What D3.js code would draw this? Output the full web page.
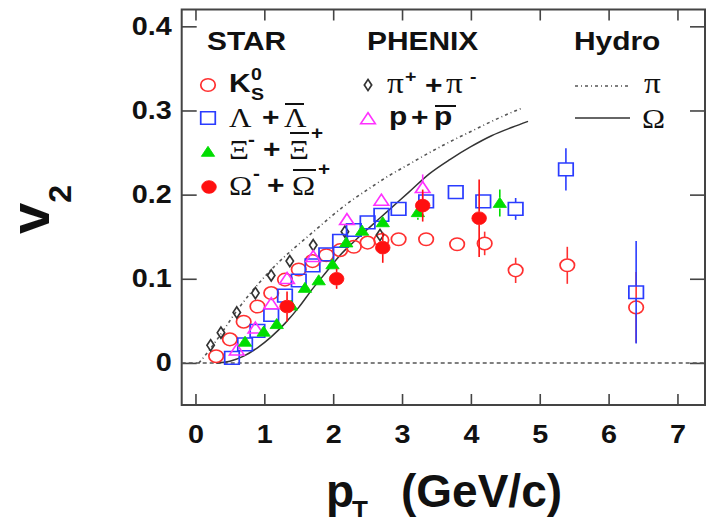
<!DOCTYPE html>
<html>
<head>
<meta charset="utf-8">
<script src="https://cdn.jsdelivr.net/npm/d3@7"></script>
<style>
  body { margin: 0; background: #fff; }
</style>
</head>
<body>
<div id="chart"></div>
<script>
// STAR K0S
let k0sPt  = [0.3, 0.5, 0.7, 0.9, 1.1, 1.3, 1.5, 1.7, 1.9, 2.1, 2.3, 2.5, 2.7, 2.95, 3.35, 3.8, 4.2, 4.65, 5.4, 6.4];
let k0sV2  = [0.008, 0.028, 0.049, 0.067, 0.083, 0.099, 0.111, 0.121, 0.128, 0.134, 0.138, 0.143, 0.146, 0.147, 0.147, 0.141, 0.142, 0.110, 0.116, 0.066];
let k0sErr = [0, 0, 0, 0, 0, 0, 0, 0, 0, 0, 0, 0, 0, 0, 0, 0.004, 0.014, 0.015, 0.022, 0.042];

// STAR Lambda
let lamPt  = [0.53, 0.72, 0.9, 1.1, 1.3, 1.5, 1.7, 1.9, 2.1, 2.3, 2.5, 2.7, 2.95, 3.35, 3.78, 4.18, 4.65, 5.38, 6.4];
let lamV2  = [0.006, 0.022, 0.038, 0.057, 0.080, 0.098, 0.116, 0.129, 0.145, 0.158, 0.167, 0.176, 0.183, 0.192, 0.203, 0.192, 0.183, 0.230, 0.084];
let lamErr = [0, 0, 0, 0, 0, 0, 0, 0, 0, 0, 0, 0, 0, 0, 0, 0.005, 0.013, 0.025, 0.061];

// STAR Xi
let xiPt  = [0.72, 0.99, 1.18, 1.39, 1.59, 1.79, 1.99, 2.19, 2.42, 2.72, 3.23, 4.42];
let xiV2  = [0.025, 0.037, 0.046, 0.068, 0.089, 0.098, 0.117, 0.143, 0.157, 0.167, 0.179, 0.190];
let xiErr = [0, 0, 0, 0, 0, 0, 0, 0, 0, 0, 0.009, 0.016];

// STAR Omega
let omPt  = [1.33, 2.05, 2.72, 3.30, 4.12];
let omV2  = [0.067, 0.100, 0.137, 0.187, 0.172];
let omErr = [0.018, 0.012, 0.018, 0.019, 0.046];

// PHENIX pions
let piPt = [0.22, 0.37, 0.6, 0.87, 1.1, 1.37, 1.71, 2.17, 2.68];
let piV2 = [0.021, 0.036, 0.060, 0.083, 0.104, 0.121, 0.140, 0.156, 0.152];

// PHENIX protons
let prPt  = [0.6, 0.87, 1.1, 1.33, 1.71, 2.2, 2.7, 3.3];
let prV2  = [0.015, 0.041, 0.070, 0.100, 0.126, 0.170, 0.193, 0.208];
let prErr = [0, 0, 0, 0, 0, 0, 0, 0.016];

// Hydro curves
let hydroPiPt = [0.05, 0.2, 0.4, 0.6, 0.8, 1.0, 1.2, 1.4, 1.6, 1.8, 2.0, 2.2, 2.5, 2.8, 3.1, 3.4, 3.7, 4.0, 4.3, 4.6, 4.75];
let hydroPiV2 = [0, 0.015, 0.038, 0.062, 0.083, 0.102, 0.119, 0.134, 0.148, 0.162, 0.176, 0.189, 0.206, 0.222, 0.236, 0.250, 0.263, 0.275, 0.287, 0.298, 0.303];
let hydroOmPt = [0.3, 0.5, 0.7, 0.9, 1.1, 1.3, 1.5, 1.7, 1.9, 2.1, 2.3, 2.5, 2.8, 3.1, 3.4, 3.7, 4.0, 4.3, 4.6, 4.83];
let hydroOmV2 = [0, 0.002, 0.008, 0.018, 0.031, 0.047, 0.066, 0.088, 0.108, 0.128, 0.144, 0.159, 0.181, 0.203, 0.225, 0.242, 0.257, 0.270, 0.280, 0.287];

let xTicks = [0, 1, 2, 3, 4, 5, 6, 7];
let yTicks = [0, 0.1, 0.2, 0.3, 0.4];

const SANS = "'Liberation Sans', Arial, sans-serif";
const SERIF = "'Liberation Serif', 'Times New Roman', serif";
const SX = 1.15; // the picture is a bit wider than tall

let W = 708, H = 517;
let x = d3.scaleLinear().domain([-0.2, 7.4]).range([181.7, 705]);
let y = d3.scaleLinear().domain([-0.05, 0.42]).range([405, 9.5]);

let svg = d3.select("#chart").append("svg")
    .attr("width", W).attr("height", H)
    .style("background", "#fff");

// axes with inward ticks on all four sides
let axisColor = "#444";
function styleAxis(g) {
  g.select(".domain").remove();
  g.selectAll("line").attr("stroke", axisColor).attr("stroke-width", 1.6);
}
svg.append("g").attr("transform", "translate(0," + y.range()[0] + ")")
  .call(d3.axisBottom(x).tickValues(xTicks).tickSize(-11).tickPadding(20).tickFormat(d3.format("d")))
  .call(styleAxis)
  .selectAll("text")
    .attr("transform", "scale(" + SX + ",1)")
    .style("font-family", SANS).style("font-weight", "bold").style("font-size", "25px").attr("fill", "#111");
svg.append("g").attr("transform", "translate(0," + y.range()[1] + ")")
  .call(d3.axisTop(x).tickValues(xTicks).tickSize(-11).tickFormat(""))
  .call(styleAxis);
svg.append("g").attr("transform", "translate(" + x.range()[0] + ",0)")
  .call(d3.axisLeft(y).tickValues(yTicks).tickSize(-15).tickPadding(10).tickFormat(d => d === 0 ? "0" : d3.format(".1f")(d)))
  .call(styleAxis)
  .selectAll("text")
    .attr("transform", "scale(" + SX + ",1)")
    .attr("x", -10 / SX)
    .style("font-family", SANS).style("font-weight", "bold").style("font-size", "25px").attr("fill", "#111");
svg.append("g").attr("transform", "translate(" + x.range()[1] + ",0)")
  .call(d3.axisRight(y).tickValues(yTicks).tickSize(-15).tickFormat(""))
  .call(styleAxis);

svg.append("rect")
  .attr("x", x.range()[0]).attr("y", y.range()[1])
  .attr("width", x.range()[1] - x.range()[0]).attr("height", y.range()[0] - y.range()[1])
  .attr("fill", "none").attr("stroke", axisColor).attr("stroke-width", 2);

// zero line
svg.append("line")
  .attr("x1", x(-0.2)).attr("x2", x(7.4)).attr("y1", y(0)).attr("y2", y(0))
  .attr("stroke", "#555").attr("stroke-width", 1.5).attr("stroke-dasharray", "4,3");

// hydro curves
let line = d3.line().x(d => x(d[0])).y(d => y(d[1])).curve(d3.curveMonotoneX);
svg.append("path").datum(d3.zip(hydroPiPt, hydroPiV2))
  .attr("d", line).attr("fill", "none").attr("stroke", "#555")
  .attr("stroke-width", 1.6).attr("stroke-dasharray", "3,3,1,3");
svg.append("path").datum(d3.zip(hydroOmPt, hydroOmV2))
  .attr("d", line).attr("fill", "none").attr("stroke", "#333").attr("stroke-width", 1.5);

// markers
function drawSeries(pt, v2, err, opt) {
  let data = pt.map((p, i) => ({p: p, v: v2[i], e: err ? err[i] : 0}));
  let g = svg.append("g");
  let r = opt.half;
  data.filter(d => d.e > 0).forEach(d => {
    let cy = y(d.v), top = y(d.v + d.e), bot = y(d.v - d.e);
    if (cy - top > r) g.append("line").attr("x1", x(d.p)).attr("x2", x(d.p)).attr("y1", top).attr("y2", cy - r)
      .attr("stroke", opt.color).attr("stroke-width", 1.6);
    if (bot - cy > r) g.append("line").attr("x1", x(d.p)).attr("x2", x(d.p)).attr("y1", cy + r).attr("y2", bot)
      .attr("stroke", opt.color).attr("stroke-width", 1.6);
  });
  g.selectAll("path").data(data).enter().append("path")
    .attr("d", d3.symbol().type(opt.type).size(opt.size))
    .attr("transform", d => "translate(" + x(d.p) + "," + (y(d.v) + (opt.dy || 0)) + ") scale(" + SX + ",1)")
    .attr("fill", opt.fill ? opt.color : "none")
    .attr("stroke", opt.color).attr("stroke-width", opt.fill ? 0.8 : 1.5);
}

let sK0s = {type: d3.symbolCircle, size: 125, color: "#ff3030", half: 6.5};
let sPi  = {type: d3.symbolDiamond, size: 36, color: "#333", half: 5.5};
let sLam = {type: d3.symbolSquare, size: 160, color: "#2a3cff", half: 6.5};
let sPr  = {type: d3.symbolTriangle, size: 70, color: "#ff30ff", half: 5.5, dy: 1};
let sXi  = {type: d3.symbolTriangle, size: 58, color: "#00dd00", half: 5.5, fill: true, dy: 1};
let sOm  = {type: d3.symbolCircle, size: 125, color: "#ff1010", half: 6.5, fill: true};

drawSeries(k0sPt, k0sV2, k0sErr, sK0s);
drawSeries(piPt, piV2, null, sPi);
drawSeries(lamPt, lamV2, lamErr, sLam);
drawSeries(prPt, prV2, prErr, sPr);
drawSeries(xiPt, xiV2, xiErr, sXi);
drawSeries(omPt, omV2, omErr, sOm);

// text helper, stretched like the picture
function txt(s, px, py, size, opts) {
  opts = opts || {};
  let t = svg.append("text")
    .attr("transform", "translate(" + px + "," + py + ") scale(" + (opts.sx || SX) + ",1)")
    .style("font-family", opts.serif ? SERIF : SANS)
    .style("font-weight", opts.serif ? "normal" : "bold")
    .style("font-size", size + "px")
    .attr("fill", "#111")
    .text(s);
  return t;
}
function over(x1, x2, yy) {
  svg.append("line").attr("x1", x1).attr("x2", x2).attr("y1", yy).attr("y2", yy)
    .attr("stroke", "#111").attr("stroke-width", 2);
}
function legendMarker(s, px, py) {
  svg.append("path")
    .attr("d", d3.symbol().type(s.type).size(s.size))
    .attr("transform", "translate(" + px + "," + (py + (s.dy || 0)) + ") scale(" + SX + ",1)")
    .attr("fill", s.fill ? s.color : "none")
    .attr("stroke", s.color).attr("stroke-width", s.fill ? 0.8 : 1.5);
}

// column headers
txt("STAR", 207, 50, 26);
txt("PHENIX", 367, 50, 26);
txt("Hydro", 574, 50, 26);

// STAR rows
legendMarker(sK0s, 208, 85);
txt("K", 229, 92, 26);
txt("0", 251, 80, 17);
txt("S", 251, 100, 17);

legendMarker(sLam, 208, 118);
txt("\u039B", 229, 127, 27, {serif: true});
txt("+", 262, 126, 26);
txt("\u039B", 284, 127, 27, {serif: true});
over(285, 304, 104);

legendMarker(sXi, 208, 152);
txt("\u039E", 229, 159, 27, {serif: true});
txt("-", 248, 146, 18);
txt("+", 263, 158, 26);
txt("\u039E", 289, 159, 27, {serif: true});
over(290, 309, 133);
txt("+", 311, 139, 18);

legendMarker(sOm, 209, 187);
txt("\u03A9", 229, 195, 27, {serif: true});
txt("-", 253, 180, 18);
txt("+", 267, 194, 26);
txt("\u03A9", 292, 195, 27, {serif: true});
over(293, 316, 170);
txt("+", 318, 175, 18);

// PHENIX rows
legendMarker(sPi, 368, 85);
txt("\u03C0", 387, 93, 29, {serif: true});
txt("+", 405, 82, 17);
txt("+", 425, 94, 26);
txt("\u03C0", 446, 93, 29, {serif: true});
txt("-", 470, 82, 17);

legendMarker(sPr, 368, 119);
txt("p", 389, 125, 26);
txt("+", 411, 126, 26);
txt("p", 434, 125, 26);
over(435, 456, 106);

// Hydro rows
svg.append("line").attr("x1", 575).attr("x2", 628).attr("y1", 86).attr("y2", 86)
  .attr("stroke", "#555").attr("stroke-width", 1.6).attr("stroke-dasharray", "3,3,1,3");
txt("\u03C0", 644, 93, 29, {serif: true});
svg.append("line").attr("x1", 575).attr("x2", 630).attr("y1", 118).attr("y2", 118)
  .attr("stroke", "#333").attr("stroke-width", 1.5);
txt("\u03A9", 642, 128, 27, {serif: true});

// axis titles
txt("p", 326, 507, 46, {sx: 1.0});
txt("T", 352, 519, 26, {sx: 1.0});
txt("(GeV/c)", 401, 507, 46, {sx: 1.0});

let v2t = svg.append("text")
  .attr("transform", "translate(49,234) rotate(-90)")
  .style("font-family", SANS).style("font-weight", "bold").attr("fill", "#111");
v2t.append("tspan").style("font-size", "56px").text("v");
v2t.append("tspan").style("font-size", "32px").attr("dy", 22).text("2");
</script>
</body>
</html>
